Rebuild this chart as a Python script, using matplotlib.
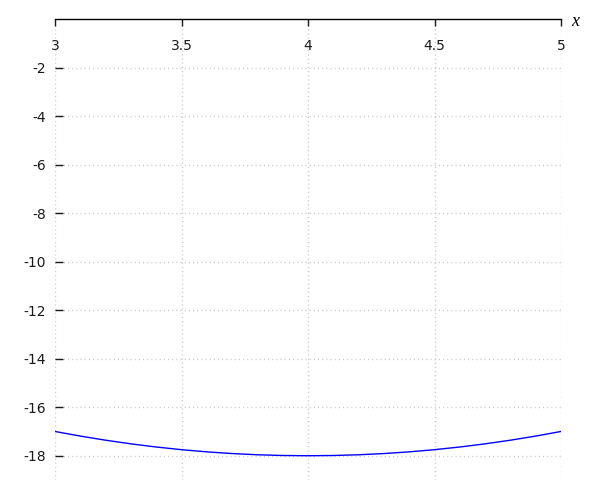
import matplotlib
matplotlib.use("Agg")
import matplotlib.pyplot as plt

# values
x_vals = [3.0, 3.1, 3.2, 3.3, 3.4, 3.5, 3.6, 3.7, 3.8, 3.9, 4.0,
          4.1, 4.2, 4.3, 4.4, 4.5, 4.6, 4.7, 4.8, 4.9, 5.0]
y_vals = [-17.0, -17.19, -17.36, -17.51, -17.64, -17.75, -17.84, -17.91, -17.96, -17.99, -18.0,
          -17.99, -17.96, -17.91, -17.84, -17.75, -17.64, -17.51, -17.36, -17.19, -17.0]

x_ticks = [3, 3.5, 4, 4.5, 5]
x_labels = ["3", "3.5", "4", "4.5", "5"]
y_ticks = [-2, -4, -6, -8, -10, -12, -14, -16, -18]

fig = plt.figure(figsize=(6, 5), dpi=100)
ax = fig.add_axes([55/600, 20/500, (561-55)/600, (481-20)/500])

ax.plot(x_vals, y_vals, color="#0000ff", lw=1)

ax.set_xlim(3, 5)
ax.set_ylim(-19, 0)

ax.set_xticks(x_ticks)
ax.set_xticklabels(x_labels)
ax.set_yticks(y_ticks)
ax.set_yticklabels([str(v) for v in y_ticks])

for s in ["left", "right", "bottom"]:
    ax.spines[s].set_visible(False)
ax.spines["top"].set_linewidth(1)

ax.tick_params(axis="x", top=True, bottom=False, labeltop=True, labelbottom=False,
               direction="in", length=5, width=1, pad=-24.5, labelsize=10, colors="#1a1a1a")
ax.tick_params(axis="y", left=True, right=False, direction="in", length=6, width=1,
               pad=6.5, labelsize=10, colors="#1a1a1a")

ax.grid(True, color="#c8c8c8", lw=1, linestyle=(0, (0.8, 2.2)))

fig.text(575/600, 1 - 22/500, "x", fontsize=13, family="Liberation Serif",
         style="italic", ha="center", va="center")

fig.savefig("out.png", dpi=100)
